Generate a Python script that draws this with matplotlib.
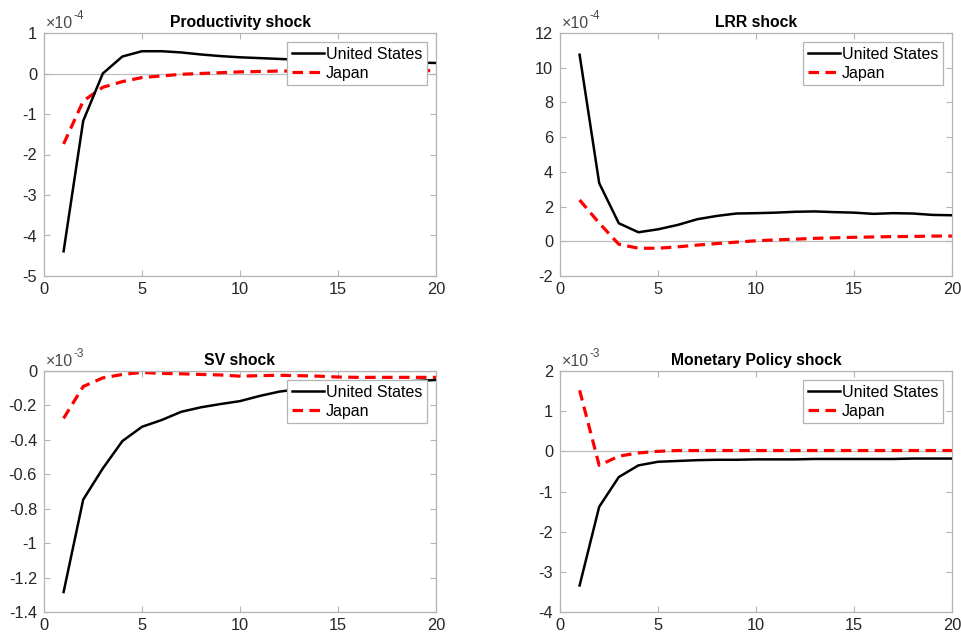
import matplotlib
matplotlib.use("Agg")
import matplotlib.pyplot as plt
from matplotlib.ticker import FuncFormatter, FixedLocator
import numpy as np

plt.rcParams['font.family'] = ['Liberation Sans', 'DejaVu Sans']
plt.rcParams['axes.unicode_minus'] = False

horizon = list(range(1, 21))

# Impulse responses, stored in the units shown on each panel's axis
prod_us = [-4.39, -1.17, 0.0, 0.42, 0.55, 0.55, 0.52, 0.47, 0.43, 0.40,
           0.38, 0.36, 0.34, 0.33, 0.32, 0.31, 0.30, 0.29, 0.27, 0.26]
prod_jp = [-1.74, -0.68, -0.34, -0.20, -0.10, -0.06, -0.02, 0.0, 0.02, 0.04,
           0.05, 0.06, 0.06, 0.07, 0.07, 0.07, 0.07, 0.07, 0.07, 0.07]

lrr_us = [10.75, 3.35, 1.04, 0.52, 0.69, 0.94, 1.27, 1.46, 1.60, 1.62,
          1.65, 1.70, 1.72, 1.68, 1.65, 1.58, 1.62, 1.60, 1.52, 1.50]
lrr_jp = [2.38, 1.05, -0.17, -0.40, -0.40, -0.32, -0.22, -0.13, -0.05, 0.03,
          0.08, 0.12, 0.17, 0.20, 0.23, 0.25, 0.27, 0.28, 0.30, 0.30]

sv_us = [-1.284, -0.747, -0.566, -0.407, -0.324, -0.285, -0.237, -0.211, -0.192, -0.175,
         -0.145, -0.120, -0.105, -0.095, -0.086, -0.078, -0.071, -0.064, -0.058, -0.052]
sv_jp = [-0.275, -0.090, -0.040, -0.020, -0.008, -0.014, -0.016, -0.020, -0.023, -0.030,
         -0.027, -0.025, -0.027, -0.030, -0.035, -0.037, -0.037, -0.037, -0.037, -0.037]

mp_us = [-3.34, -1.38, -0.64, -0.35, -0.26, -0.24, -0.22, -0.21, -0.21, -0.20,
         -0.20, -0.20, -0.19, -0.19, -0.19, -0.19, -0.19, -0.18, -0.18, -0.18]
mp_jp = [1.52, -0.35, -0.12, -0.04, 0.0, 0.02, 0.02, 0.02, 0.02, 0.02,
         0.02, 0.02, 0.02, 0.02, 0.02, 0.02, 0.02, 0.02, 0.02, 0.02]

titles = ["Productivity shock", "LRR shock", "SV shock", "Monetary Policy shock"]
exponents = [-4, -4, -3, -3]
us_series = [prod_us, lrr_us, sv_us, mp_us]
jp_series = [prod_jp, lrr_jp, sv_jp, mp_jp]
y_limits = [(-5, 1), (-2, 12), (-1.4, 0), (-4, 2)]
y_ticks = [list(range(-5, 2)), list(range(-2, 13, 2)),
           [-1.4, -1.2, -1.0, -0.8, -0.6, -0.4, -0.2, 0.0], list(range(-4, 3))]
x_ticks = [0, 5, 10, 15, 20]

W, H = 961, 635
fig = plt.figure(figsize=(W / 100, H / 100), dpi=100)

# axes rectangles in pixels: left, top, right, bottom
boxes = [(44, 33, 436, 276), (560, 33, 952, 276),
         (44, 371, 436, 612), (560, 371, 952, 612)]

frame_gray = "#b4b4b4"
text_dark = "#262626"

def fmt_tick(v, _pos):
    s = f"{v:.1f}".rstrip("0").rstrip(".")
    if s in ("-0", "-0."):
        s = "0"
    return s

for i in range(4):
    l, t, r, b = boxes[i]
    ax = fig.add_axes([l / W, 1 - b / H, (r - l) / W, (b - t) / H])
    scale = 10.0 ** exponents[i]
    us = np.array(us_series[i]) * scale
    jp = np.array(jp_series[i]) * scale

    ax.axhline(0, color="#bdbdbd", lw=0.9, zorder=1)
    ax.plot(horizon, us, color="black", lw=1.8, label="United States", zorder=3)
    ax.plot(horizon, jp, color="#ff0000", lw=2.3, ls=(0, (3.3, 2.0)),
            label="Japan", zorder=2)

    ax.set_xlim(0, 20)
    lo, hi = y_limits[i]
    ax.set_ylim(lo * scale, hi * scale)
    ax.xaxis.set_major_locator(FixedLocator(x_ticks))
    ax.yaxis.set_major_locator(FixedLocator([v * scale for v in y_ticks[i]]))
    ax.yaxis.set_major_formatter(FuncFormatter(lambda v, p, s=scale: fmt_tick(v / s, p)))
    ax.xaxis.set_major_formatter(FuncFormatter(lambda v, p: f"{int(round(v))}"))

    ax.tick_params(axis="both", direction="in", length=4, width=0.8,
                   color=frame_gray, labelcolor=text_dark, labelsize=11.8,
                   top=True, right=True)
    ax.tick_params(axis="y", pad=5)
    ax.tick_params(axis="x", pad=4)
    for sp in ax.spines.values():
        sp.set_color(frame_gray)
        sp.set_linewidth(0.9)

    ax.set_title(titles[i], fontsize=11.3, fontweight="bold", color="black", pad=4)

    # axis multiplier drawn above the top-left corner
    base = ax.text(0.006, 1.01, "\u00d710", transform=ax.transAxes,
                   ha="left", va="bottom", fontsize=11.5, color="#4a4a4a")
    ax.annotate(str(exponents[i]), xy=(1.0, 1.0), xycoords=base,
                xytext=(0.3, -4.5), textcoords="offset points",
                ha="left", va="bottom", fontsize=8.5, color="#4a4a4a")

    leg = ax.legend(loc="upper right", fontsize=11.5, frameon=True, fancybox=False,
                    edgecolor=frame_gray, framealpha=1.0, handlelength=2.0,
                    handletextpad=0.15, labelspacing=0.25, borderpad=0.3,
                    borderaxespad=0.55)
    leg.get_frame().set_linewidth(0.9)
    leg.set_zorder(5)

fig.savefig("out.png", dpi=100)
